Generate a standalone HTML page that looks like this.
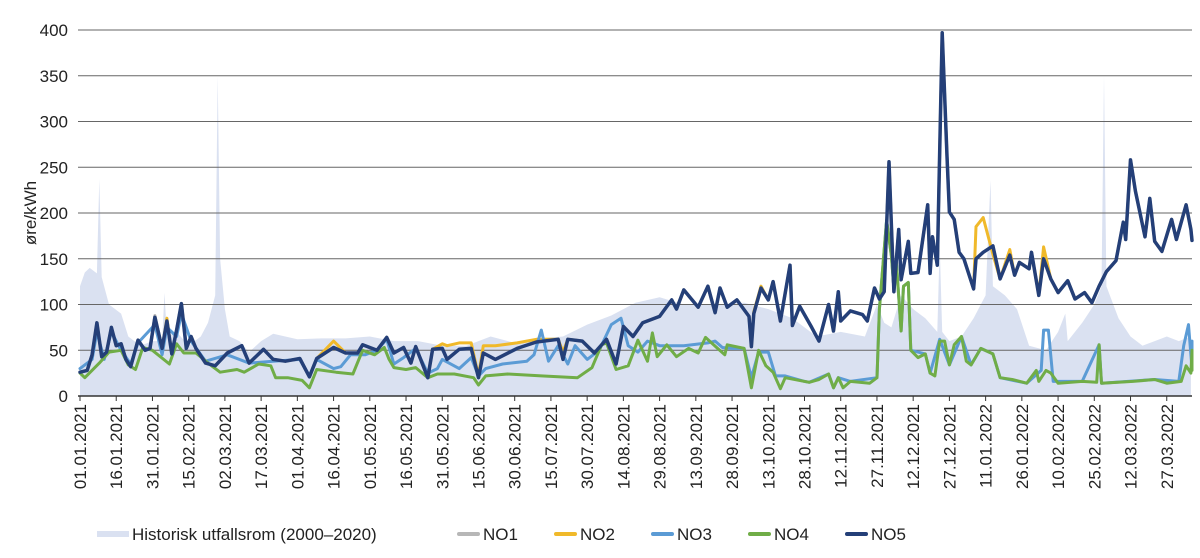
<!DOCTYPE html>
<html><head><meta charset="utf-8"><style>
html,body{margin:0;padding:0;background:#fff;width:1200px;height:558px;overflow:hidden}
svg{display:block;font-family:"Liberation Sans",sans-serif}
</style></head><body>
<svg id="chart" width="1200" height="558" viewBox="0 0 1200 558" xmlns="http://www.w3.org/2000/svg"></svg>
<script>
const yTicks=[0,50,100,150,200,250,300,350,400];
const xTickLabels=["01.01.2021","16.01.2021","31.01.2021","15.02.2021","02.03.2021","17.03.2021","01.04.2021","16.04.2021","01.05.2021","16.05.2021","31.05.2021","15.06.2021","30.06.2021","15.07.2021","30.07.2021","14.08.2021","29.08.2021","13.09.2021","28.09.2021","13.10.2021","28.10.2021","12.11.2021","27.11.2021","12.12.2021","27.12.2021","11.01.2022","26.01.2022","10.02.2022","25.02.2022","12.03.2022","27.03.2022"];
const histDays=[0,2,4,7,8,9,12,17,20,25,30,34,35,36,40,45,50,53,56,57,58,60,62,66,70,75,80,90,100,110,120,130,140,150,160,170,180,190,200,210,220,230,240,250,265,275,285,295,305,315,325,330,333,336,340,345,350,355,356,357,360,365,370,375,377,378,383,388,393,400,405,408,409,415,420,423,424,425,430,435,440,445,450,455,460];
const histVals=[120,135,140,134,237,130,100,90,65,55,60,60,113,65,70,55,65,80,110,350,150,95,65,60,48,60,68,62,63,63,65,60,60,55,55,65,58,63,65,78,88,102,108,100,100,102,95,85,65,70,65,100,80,75,110,95,85,70,165,70,60,65,85,110,236,120,110,95,55,50,70,90,60,80,100,120,350,120,85,65,55,60,65,60,65];
const no5Days=[0,3,5,7,9,11,13,15,17,19,21,24,27,29,31,34,36,38,40,42,44,46,48,52,56,61,67,70,76,80,85,91,95,98,105,110,115,117,123,127,130,134,137,139,144,146,150,152,157,162,165,167,172,181,189,198,200,202,208,213,218,222,225,229,233,240,245,247,250,256,260,263,265,268,272,277,278,279,282,285,287,290,294,295,298,303,306,310,312,314,315,319,324,326,329,331,333,335,337,339,340,343,344,347,351,352,353,355,357,359,360,362,364,366,370,371,374,378,381,385,387,389,393,394,397,399,402,405,409,412,416,419,422,425,429,432,433,435,437,441,443,445,448,452,454,458,460,462];
const no1Vals=[26,28,45,80,43,48,75,55,57,40,32,61,50,52,88,52,82,46,72,101,52,65,52,36,33,47,55,36,51,40,38,41,21,41,53,47,47,56,50,64,47,53,36,54,20,51,52,40,51,52,20,47,40,52,59,62,40,62,60,47,62,35,76,65,80,87,105,95,116,97,120,91,118,97,105,87,54,90,118,105,125,82,143,77,98,75,60,100,71,114,82,93,89,82,118,106,114,256,114,182,127,169,134,135,209,134,174,143,397,262,201,193,157,150,117,150,157,164,128,154,132,146,139,157,110,150,128,113,126,106,113,102,120,136,148,190,171,258,224,174,216,169,158,193,171,209,182,170];
const no2Vals=[26,28,45,80,43,48,75,55,57,40,32,61,50,52,86,52,85,46,72,101,52,65,52,36,33,47,55,36,51,40,38,41,21,41,60,47,47,56,50,64,47,53,36,54,20,51,57,55,58,58,22,55,55,58,62,62,48,62,60,47,62,35,76,65,80,87,105,95,116,97,120,91,118,97,105,87,54,92,120,105,125,82,143,77,98,75,60,100,71,114,82,93,89,82,118,106,114,256,114,182,127,169,134,135,209,134,174,143,397,262,201,193,157,150,117,185,195,155,128,160,132,146,139,157,110,163,128,113,126,106,113,102,120,136,148,190,171,258,224,174,216,169,158,193,171,209,182,170];
const no3Days=[0,5,7,10,13,17,21,24,31,34,36,40,42,46,52,61,70,80,91,95,98,105,108,112,118,123,127,130,134,139,144,148,150,157,162,165,168,175,185,188,191,194,198,202,205,210,215,220,224,227,231,235,240,250,260,263,266,270,275,278,281,285,288,292,300,302,310,312,314,319,330,331,334,336,337,338,340,341,343,344,350,352,356,360,365,369,373,378,381,392,398,399,401,403,415,422,423,445,455,457,459,461,463];
const no3Vals=[30,40,70,40,70,50,35,58,78,45,75,65,90,60,38,45,36,38,40,22,40,30,32,45,45,50,62,35,42,52,25,30,40,30,42,22,30,35,38,45,72,38,55,35,55,40,50,78,85,55,48,60,55,55,58,60,53,52,52,20,48,48,22,22,16,15,24,9,20,16,20,95,192,153,117,147,71,120,124,50,46,25,62,34,65,34,52,46,20,14,28,72,72,16,16,56,14,18,16,55,78,30,60];
const no4Days=[0,2,8,12,17,20,23,26,30,37,40,43,48,54,58,65,68,74,79,81,86,92,95,98,106,113,117,122,126,128,130,135,139,144,148,155,163,165,168,177,191,206,212,216,218,222,227,231,235,237,239,243,247,252,256,259,264,267,268,275,278,281,284,287,290,292,302,306,310,312,314,316,319,327,330,331,334,336,337,338,340,341,343,344,347,350,352,354,356,358,360,362,365,367,369,373,378,381,386,392,396,397,400,402,405,415,421,422,423,436,445,450,456,458,460,462,463];
const no4Vals=[25,20,36,48,50,34,29,53,50,35,57,47,47,34,26,29,26,35,33,20,20,17,9,29,26,24,50,45,53,40,31,29,31,20,24,24,20,12,22,24,22,20,31,56,58,29,33,61,38,69,43,56,43,52,47,64,52,45,56,52,9,50,33,26,8,20,15,18,24,9,20,9,16,14,20,95,192,153,117,147,71,120,124,50,42,46,25,22,60,60,34,56,65,38,34,52,46,20,18,14,28,16,28,25,14,16,15,56,14,16,18,14,16,33,25,50,28];
const no5Vals=[26,28,45,80,43,48,75,55,57,40,32,61,50,52,86,52,82,46,72,101,52,65,52,36,33,47,55,36,51,40,38,41,21,41,53,47,47,56,50,64,47,53,36,54,20,51,52,40,51,52,20,47,40,52,59,62,40,62,60,47,62,35,76,65,80,87,105,95,116,97,120,91,118,97,105,87,54,90,118,105,125,82,143,77,98,75,60,100,71,114,82,93,89,82,118,106,114,256,114,182,127,169,134,135,209,134,174,143,397,262,201,193,157,150,117,150,157,164,128,154,132,146,139,157,110,150,128,113,126,106,113,102,120,136,148,190,171,258,224,174,216,169,158,193,171,209,182,170];

const NS="http://www.w3.org/2000/svg";
const svg=document.getElementById('chart');
const X0=80,PXD=2.415,Y0=396,PXV=0.915,XR=1192;
function xs(d){return Math.min(XR,X0+d*PXD);}
function ys(v){return Y0-v*PXV;}
function mk(t,a,parent){const e=document.createElementNS(NS,t);for(const k in a)e.setAttribute(k,a[k]);(parent||svg).appendChild(e);return e;}

let dA='M'+xs(histDays[0])+','+Y0;
for(let i=0;i<histDays.length;i++)dA+=' L'+xs(histDays[i]).toFixed(1)+','+ys(histVals[i]).toFixed(1);
dA+=' L'+xs(histDays[histDays.length-1])+','+Y0+' Z';
const band=mk('path',{d:dA,fill:'#dae1f1'});



yTicks.forEach(v=>{
  const g=mk('line',{x1:78,x2:1192,y1:ys(v),y2:ys(v),stroke:v===0?'#333':'#666','stroke-width':v===0?1.5:1});
  
  
  const t=mk('text',{x:68,y:ys(v)+6,'text-anchor':'end','font-size':17,fill:'#222'});
  t.textContent=v;
  
  
});
const yt=mk('text',{transform:'translate(36,213) rotate(-90)','text-anchor':'middle','font-size':17,fill:'#222'});
yt.textContent='øre/kWh';



xTickLabels.forEach((s,i)=>{
  const x=xs(i*15);
  const tk=mk('line',{x1:x,x2:x,y1:396,y2:401,stroke:'#333','stroke-width':1});
  
  
  const t=mk('text',{transform:'translate('+(x+6)+',404) rotate(-90)','text-anchor':'end','font-size':17,fill:'#222'});
  t.textContent=s;
  
  
});

function line(days,vals,color,w,name){
  const n=Math.min(days.length,vals.length);
  let d='';
  for(let i=0;i<n;i++)d+=(i?' L':'M')+xs(days[i]).toFixed(1)+','+ys(vals[i]).toFixed(1);
  const p=mk('path',{d:d,fill:'none',stroke:color,'stroke-width':w,'stroke-linejoin':'round','stroke-linecap':'round'});
  
  
}
line(no5Days,no1Vals,'#b7b7b7',3,'no1-line');
line(no5Days,no2Vals,'#f0b92a',3,'no2-line');
line(no3Days,no3Vals,'#5b9bd5',3,'no3-line');
line(no4Days,no4Vals,'#70ad47',3,'no4-line');
line(no5Days,no5Vals,'#243f78',3.5,'no5-line');

const leg=[{l:'Historisk utfallsrom (2000–2020)',c:'#dae1f1',x:97,w:32,h:6},{l:'NO1',c:'#b7b7b7',x:457,w:23,h:4},{l:'NO2',c:'#f0b92a',x:554,w:23,h:4},{l:'NO3',c:'#5b9bd5',x:651,w:23,h:4},{l:'NO4',c:'#70ad47',x:748,w:23,h:4},{l:'NO5',c:'#243f78',x:845,w:23,h:4}];
leg.forEach(e=>{
  const g=mk('g',{});
  
  
  mk('rect',{x:e.x,y:534-e.h/2,width:e.w,height:e.h,rx:e.h===4?2:0,fill:e.c},g);
  const t=mk('text',{x:e.x+e.w+3,y:540,'font-size':17,fill:'#222'},g);
  t.textContent=e.l;
});
</script>
</body></html>
